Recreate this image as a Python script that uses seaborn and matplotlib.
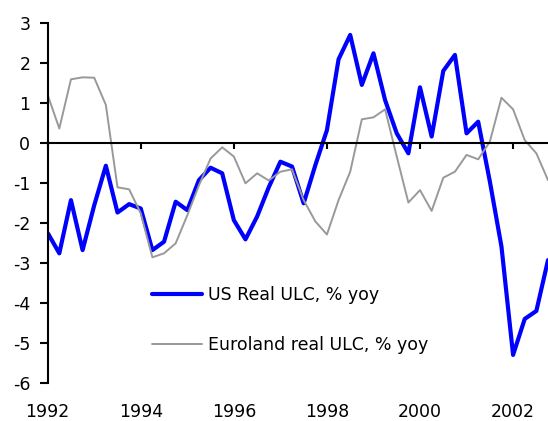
import numpy as np
import matplotlib
matplotlib.use('Agg')
import matplotlib.pyplot as plt
import seaborn as sns
import pandas as pd

# Quarterly data, 1992Q1 - 2002Q4
quarters = pd.period_range('1992Q1', periods=44, freq='Q')
us_ulc = [-2.24, -2.75, -1.42, -2.67, -1.55, -0.56, -1.73, -1.52, -1.63, -2.67,
          -2.46, -1.46, -1.67, -0.92, -0.61, -0.75, -1.92, -2.40, -1.83, -1.10,
          -0.46, -0.58, -1.50, -0.55, 0.33, 2.10, 2.71, 1.46, 2.25, 1.08,
          0.25, -0.25, 1.40, 0.17, 1.81, 2.21, 0.25, 0.54, -0.95, -2.58,
          -5.29, -4.39, -4.19, -2.92]
euro_ulc = [1.21, 0.37, 1.60, 1.65, 1.64, 0.96, -1.10, -1.15, -1.75, -2.85,
            -2.75, -2.50, -1.80, -1.05, -0.38, -0.10, -0.33, -1.00, -0.75, -0.93,
            -0.71, -0.65, -1.42, -1.95, -2.28, -1.42, -0.71, 0.60, 0.65, 0.85,
            -0.33, -1.48, -1.17, -1.69, -0.86, -0.71, -0.29, -0.40, 0.04, 1.14,
            0.85, 0.08, -0.25, -0.92]
series_names = ['US Real ULC, % yoy', 'Euroland real ULC, % yoy']
year_ticks = [1992, 1994, 1996, 1998, 2000, 2002]

x = quarters.year + (quarters.quarter - 1) / 4
df = pd.concat([
    pd.DataFrame({'date': x, 'value': us_ulc, 'series': series_names[0]}),
    pd.DataFrame({'date': x, 'value': euro_ulc, 'series': series_names[1]}),
])

sns.set_style('ticks')
plt.rcParams['font.family'] = ['DejaVu Sans']
plt.rcParams['axes.unicode_minus'] = False
for k in ['text.color', 'axes.edgecolor', 'xtick.color', 'ytick.color',
          'xtick.labelcolor', 'ytick.labelcolor']:
    plt.rcParams[k] = 'black'

fig = plt.figure(figsize=(5.48, 4.21), dpi=100)
ax = fig.add_axes([0.087, 0.0895, 0.913, 0.8551])

sns.lineplot(data=df, x='date', y='value', hue='series', size='series',
             sizes={series_names[0]: 3.0, series_names[1]: 1.4},
             palette={series_names[0]: '#0000FF', series_names[1]: '#999999'},
             ax=ax)

ax.set_xlim(1992, 2002.75)
ax.set_ylim(-6, 3)
ax.set_yticks(range(-6, 4))
ax.set_xticks(year_ticks)
ax.set_xlabel('')
ax.set_ylabel('')

for s in ['top', 'right']:
    ax.spines[s].set_visible(False)
ax.spines['bottom'].set_position(('data', 0))
ax.spines['bottom'].set_linewidth(1.5)
ax.spines['left'].set_linewidth(1.5)
ax.tick_params(axis='x', direction='out', length=4.5, width=1.5, labelbottom=False)
ax.tick_params(axis='y', direction='out', length=5.5, width=1.5, labelsize=12.5, pad=7)

# year labels along the bottom edge
sec = ax.secondary_xaxis('bottom')
sec.set_xticks(year_ticks)
sec.tick_params(length=0, labelsize=12.5, pad=14)
sec.spines['bottom'].set_visible(False)

leg = ax.legend(loc='center left', bbox_to_anchor=(0.208, 0.176), frameon=False,
                fontsize=12.5, handlelength=2.9, handletextpad=0.35,
                labelspacing=1.85, borderpad=0, borderaxespad=0)

fig.savefig('out.png', dpi=100)
